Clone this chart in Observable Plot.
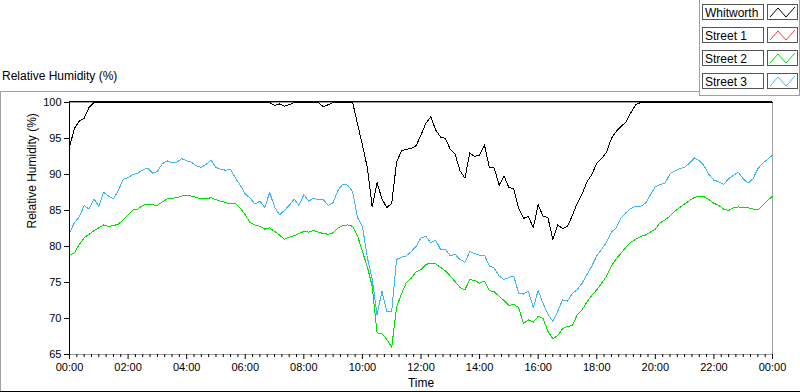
<!DOCTYPE html>
<html><head><meta charset="utf-8">
<script src="https://cdn.jsdelivr.net/npm/d3@7"></script>
<script src="https://cdn.jsdelivr.net/npm/@observablehq/plot@0.6"></script>
<style>
body{margin:0;background:#fff;}
#wrap{position:relative;width:800px;height:392px;overflow:hidden;font-family:"Liberation Sans",Arial,sans-serif;color:#000;}
#wrap > svg{position:absolute;left:0;top:0;}
.ln{position:absolute;}
.title{position:absolute;left:2px;top:69px;font-size:12px;line-height:14px;white-space:nowrap;}
.lbox{position:absolute;left:702px;width:58px;height:14px;border:1px solid #555;background:#fff;font-size:12px;line-height:14px;padding-left:2px;box-sizing:content-box;white-space:nowrap;}
.lbox span{position:relative;top:1px;}
.lsw{position:absolute;left:767px;width:29px;height:14px;border:1px solid #555;background:#fff;}
.lsw svg{position:absolute;left:0;top:0;}
</style></head><body><div id="wrap"></div>
<script>
// ---- data (10-minute samples) ----
const times = [
"00:00","00:10","00:20","00:30","00:40","00:50","01:00","01:10","01:20","01:30","01:40","01:50",
"02:00","02:10","02:20","02:30","02:40","02:50","03:00","03:10","03:20","03:30","03:40","03:50",
"04:00","04:10","04:20","04:30","04:40","04:50","05:00","05:10","05:20","05:30","05:40","05:50",
"06:00","06:10","06:20","06:30","06:40","06:50","07:00","07:10","07:20","07:30","07:40","07:50",
"08:00","08:10","08:20","08:30","08:40","08:50","09:00","09:10","09:20","09:30","09:40","09:50",
"10:00","10:10","10:20","10:30","10:40","10:50","11:00","11:10","11:20","11:30","11:40","11:50",
"12:00","12:10","12:20","12:30","12:40","12:50","13:00","13:10","13:20","13:30","13:40","13:50",
"14:00","14:10","14:20","14:30","14:40","14:50","15:00","15:10","15:20","15:30","15:40","15:50",
"16:00","16:10","16:20","16:30","16:40","16:50","17:00","17:10","17:20","17:30","17:40","17:50",
"18:00","18:10","18:20","18:30","18:40","18:50","19:00","19:10","19:20","19:30","19:40","19:50",
"20:00","20:10","20:20","20:30","20:40","20:50","21:00","21:10","21:20","21:30","21:40","21:50",
"22:00","22:10","22:20","22:30","22:40","22:50","23:00","23:10","23:20","23:30","23:40","23:50",
"24:00"];

const whitworth = [
93.8,96.4,97.4,97.8,99.3,100,100,100,100,100,100,100,
100,100,100,100,100,100,100,100,100,100,100,100,
100,100,100,100,100,100,100,100,100,100,100,100,
100,100,100,100,100,100,99.6,99.8,99.5,99.7,100,100,
100,100,100,100,99.4,99.7,100,100,100,100,100,97.0,
94.1,91.0,85.5,88.9,86.6,85.4,86.0,91.7,93.3,93.5,93.6,94.0,
95.5,97.1,98.0,96.2,95.2,95.0,93.5,92.8,90.5,89.5,93.0,92.5,
92.7,94.1,91.0,90.9,88.5,89.8,88.2,88.0,85.3,83.9,84.2,82.6,
85.8,84.2,84.0,81.0,83.0,82.5,82.8,84.3,86.0,87.3,89.0,90.0,
91.6,92.2,93.1,95.0,96.0,96.7,97.3,98.6,99.7,100,100,100,
100,100,100,100,100,100,100,100,100,100,100,100,
100,100,100,100,100,100,100,100,100,100,100,100,
100];

const street1 = [];

const street2 = [
78.8,79.1,80.3,81.2,81.7,82.2,82.6,83.0,82.8,82.9,83.1,83.7,
84.4,85.1,85.2,85.7,85.9,85.8,85.7,86.2,86.6,86.7,86.8,87.0,
87.1,87.0,86.8,86.6,86.6,86.8,86.5,86.3,86.1,85.9,86.0,85.3,
84.4,83.3,83.0,82.8,82.4,82.6,82.1,81.6,81.0,81.3,81.5,81.8,
82.1,82.0,82.2,82.0,81.8,81.7,81.9,82.6,82.9,83.0,82.8,81.5,
79.3,77.2,74.5,68.0,67.9,67.1,66.0,71.6,73.4,75.0,75.6,76.5,
76.8,77.5,77.7,77.6,77.1,76.6,75.9,75.1,74.3,74.0,75.4,75.3,
74.9,75.2,73.9,73.7,73.1,72.5,71.8,72.0,71.5,69.3,69.8,69.5,
70.3,70.0,68.2,67.2,67.6,68.6,68.9,69.0,70.5,71.2,72.3,73.2,
74.0,74.9,75.9,77.3,78.3,79.1,79.9,80.6,81.0,81.4,81.6,82.0,
82.4,83.3,83.7,84.2,84.9,85.4,85.9,86.4,86.8,87.0,86.9,86.5,
86.0,85.7,85.2,85.0,85.4,85.5,85.4,85.4,85.2,85.1,85.7,86.4,
87.0];

const street3 = [
81.9,83.3,84.1,85.7,85.2,86.6,85.6,87.5,87.0,86.6,87.8,89.3,
89.6,90.0,90.2,90.6,90.9,90.2,90.4,91.5,91.9,91.6,91.7,92.2,
91.9,91.7,91.2,91.0,91.4,92.0,91.0,90.7,90.6,90.7,89.5,88.5,
87.3,86.7,85.9,86.3,85.4,87.5,85.5,84.4,85.0,85.7,86.6,85.7,
87.2,86.3,86.7,86.5,86.5,85.7,86.1,87.8,88.7,88.5,87.6,84.0,
82.8,78.5,75.5,70.5,73.8,71.0,71.0,78.2,78.5,78.7,79.3,80.0,
81.2,81.4,80.5,80.9,79.6,79.6,78.7,78.9,78.2,77.8,79.3,79.0,
78.8,78.8,77.3,77.0,75.9,75.4,75.7,75.9,73.5,73.4,73.8,71.5,
73.9,72.1,70.6,69.6,71.0,72.6,72.4,73.5,74.0,74.9,76.1,77.3,
78.7,79.6,80.6,82.0,82.6,84.0,84.7,85.3,85.6,85.6,86.0,87.2,
88.3,88.6,88.8,90.1,90.5,90.8,91.0,91.6,92.3,91.9,91.2,90.0,
89.2,89.0,88.6,89.4,89.9,90.3,89.4,88.8,89.4,90.8,91.6,92.1,
92.7];

const seriesNames = ["Whitworth", "Street 1", "Street 2", "Street 3"];
const seriesColors = ["#000000", "#ff3a3a", "#00e000", "#3fb6f2"];
const xTickLabels = ["00:00","02:00","04:00","06:00","08:00","10:00","12:00","14:00","16:00","18:00","20:00","22:00","00:00"];
const xTickHours = [0,2,4,6,8,10,12,14,16,18,20,22,24];
const yTicks = [65,70,75,80,85,90,95,100];
const titleText = "Relative Humidity (%)";
const yLabel = "Relative Humidity (%)";
const xLabel = "Time";

// ---- build tables ----
const hours = times.map(t => { const [h, m] = t.split(":").map(Number); return h + m / 60; });
const allSeries = [whitworth, street1, street2, street3];
const tables = allSeries.map(vals => vals.map((v, i) => ({h: hours[i], v})));
const minorHours = d3.range(0, 24.001, 0.25).filter(h => Math.abs(h / 2 - Math.round(h / 2)) > 1e-6);
const tickLabelMap = new Map(xTickHours.map((h, i) => [h, xTickLabels[i]]));

const chart = Plot.plot({
  width: 800, height: 392,
  marginLeft: 69, marginRight: 28, marginTop: 102, marginBottom: 38,
  style: {fontFamily: '"Liberation Sans", Arial, sans-serif', fontSize: "11px", color: "#000", background: "transparent"},
  x: {domain: [0, 24], axis: null},
  y: {domain: [65, 100], axis: null},
  marks: [
    Plot.frame({stroke: "#a0a0a0", shapeRendering: "crispEdges"}),
    Plot.ruleY([100], {stroke: "#000", dy: -1, shapeRendering: "crispEdges"}),
    ...tables.map((t, i) => Plot.line(t, {x: "h", y: "v", stroke: seriesColors[i], strokeWidth: 1, shapeRendering: "crispEdges"})),
    Plot.ruleX([0], {stroke: "#000", shapeRendering: "crispEdges"}),
    Plot.axisY(yTicks, {tickSize: 5, tickPadding: 3, label: null, fontSize: 11}),
    Plot.axisX(xTickHours, {tickSize: 5, tickPadding: 4, label: null, tickFormat: d => tickLabelMap.get(d), fontSize: 11}),
    Plot.axisX(minorHours, {tickSize: 3, label: null, tickFormat: () => ""}),
    Plot.text([yLabel], {frameAnchor: "left", dx: -37, rotate: -90, fontSize: 12, fill: "#000"}),
    Plot.text([xLabel], {frameAnchor: "bottom", dy: 32, fontSize: 12, fill: "#000"})
  ]
});

const wrap = document.getElementById("wrap");
wrap.appendChild(chart);

function line(l, t, w, h, c) {
  const d = document.createElement("div");
  d.className = "ln";
  Object.assign(d.style, {left: l + "px", top: t + "px", width: w + "px", height: h + "px", background: c});
  wrap.appendChild(d);
}
line(0, 91, 699, 1, "#a0a0a0");
line(0, 91, 1, 301, "#a0a0a0");
line(0, 391, 800, 1, "#000");
line(699, 0, 1, 96, "#a0a0a0");
line(699, 95, 101, 1, "#a0a0a0");
line(799, 0, 1, 96, "#a0a0a0");

const title = document.createElement("div");
title.className = "title";
title.textContent = titleText;
wrap.appendChild(title);

seriesNames.forEach((name, i) => {
  const top = 4 + i * 23;
  const b = document.createElement("div");
  b.className = "lbox";
  b.style.top = top + "px";
  const s = document.createElement("span");
  s.textContent = name;
  b.appendChild(s);
  wrap.appendChild(b);
  const sw = document.createElement("div");
  sw.className = "lsw";
  sw.style.top = top + "px";
  sw.innerHTML = `<svg width="29" height="14"><polyline points="2,12 10,3 18,12 27,2" fill="none" stroke="${seriesColors[i]}" stroke-width="1"/></svg>`;
  wrap.appendChild(sw);
});
</script></body></html>
